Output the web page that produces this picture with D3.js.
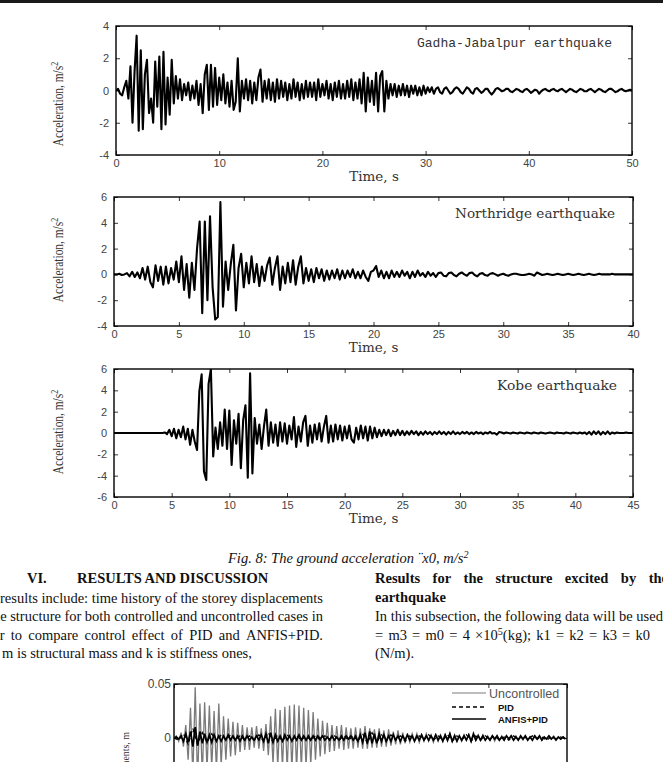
<!DOCTYPE html>
<html>
<head>
<meta charset="utf-8">
<script src="https://cdn.jsdelivr.net/npm/d3@7/dist/d3.min.js"></script>
<style>
  body { margin: 0; background: #fff; }
  svg { display: block; }
</style>
</head>
<body>
<svg id="page" width="663" height="762"></svg>
<script>
// ---------------- DATA ----------------
// Ground acceleration records, one sample every dt seconds (m/s^2)
const gadhaDt = 0.2;
const gadhaAcc = [
  0, 0.1, -0.2, -0.3, 0.2,   0.6, -0.5, 1.5, -2.0, 1.2,
  3.4, -2.5, 2.5, -2.4, 1.0,   1.9, -1.4, -0.5, -2.0, 1.8,
  -1.0, 2.1, -2.4, 2.4, -2.1,   0.8, -1.5, 1.9, -0.8, 0.9,
  -0.5, 0.7, -0.6, 0.4, -0.3,   0.5, -0.6, 0.3, -0.5, 0.6,
  -0.9, 0.4, -1.4, 1.0, 1.6,   -1.2, 1.6, -1.0, 1.4, -0.9,
  0.8, -0.6, 1.0, -0.8, 0.5,   -1.0, 0.6, -1.2, -0.7, 2.0,
  -1.3, 0.6, -0.5, 0.7, -0.6,   0.6, -0.8, 0.5, -0.6, 0.8,
  1.3, -0.7, 0.6, -0.5, 0.7,   -0.6, 0.5, -0.7, 0.7, -0.5,
  0.6, -0.4, 0.5, -0.6, 0.4,   -0.5, 0.7, -0.4, 0.5, -0.6,
  0.4, -0.5, 0.6, -0.4, 0.5,   -0.4, 0.5, -0.6, 0.7, -0.4,
  0.4, -0.3, 0.6, -0.5, 0.4,   -0.6, 0.5, -0.4, 0.6, -0.5,
  0.4, -0.5, 0.6, -0.4, 0.7,   -0.6, 0.5, -0.5, 0.7, -0.8,
  1.1, -1.3, 0.8, -0.7, 0.6,   -0.9, 1.1, -1.3, 0.9, 1.2,
  -1.3, 0.6, -0.5, 0.4, -0.3,   0.4, -0.4, 0.3, -0.3, 0.4,
  -0.3, 0.3, -0.4, 0.3, -0.2,   0.3, -0.3, 0.2, -0.3, 0.3,
  -0.2, 0.2, -0.1, 0.2, -0.2,   0.1, 0.2, -0.1, -0.2, 0.1,
  0.2, 0.0, -0.2, -0.1, 0.1,   0.2, 0.1, -0.1, -0.2, 0.0,
  0.2, 0.1, -0.1, -0.2, 0.1,   0.15, 0.0, -0.15, -0.05, 0.1,
  0.1, -0.1, -0.25, -0.1, 0.1,   0.15, 0.05, -0.05, 0.0, 0.1,
  0.1, -0.05, -0.1, 0.0, 0.1,   0.05, -0.05, -0.1, 0.05, 0.1,
  0.0, -0.15, -0.05, 0.05, 0.0,   -0.2, -0.05, 0.05, 0.1, 0.0,
  -0.05, 0.05, 0.1, 0.0, -0.05,   0.05, 0.1, 0.0, -0.1, 0.0,
  0.1, 0.05, -0.05, -0.1, 0.0,   0.1, 0.05, -0.05, -0.05, 0.05,
  0.1, 0.0, -0.1, 0.0, 0.1,   0.05, -0.05, -0.1, 0.0, 0.1,
  0.1, 0.0, -0.1, -0.05, 0.05,   0.1, 0.0, -0.05, 0.0, 0.05,
  0.0
];

const northDt = 0.2;
const northAcc = [
  0, 0, 0.05, -0.05, 0.0,   0.1, -0.15, 0.2, -0.2, 0.15,
  -0.3, 0.5, -0.4, 0.6, -0.6,   -1.0, 0.7, -0.5, 0.6, -0.8,
  0.6, -0.7, 0.5, -0.4, 1.0,   -0.6, 1.4, -1.2, 0.8, -1.8,
  0.9, -1.2, 2.0, 4.1, -3.0,   4.1, -2.0, 4.5, -1.0, -3.5,
  -3.3, 5.6, -2.5, 1.0, -1.2,   0.8, 2.3, -2.8, 0.5, 1.6,
  -1.0, 0.9, -0.7, 1.4, -0.6,   0.8, -0.9, 0.6, -0.5, 0.7,
  1.3, -0.8, 0.5, 1.4, -1.2,   0.6, -0.7, 0.9, -0.6, 1.1,
  -0.8, 0.6, 1.4, -0.7, 0.5,   -0.5, 0.4, -0.6, 0.5, -0.3,
  0.4, -0.5, 0.3, -0.4, 0.3,   -0.3, 0.4, -0.4, 0.3, -0.3,
  0.3, -0.2, 0.4, -0.3, 0.2,   -0.3, 0.3, -0.2, -0.5, 0.2,
  0.3, 0.65, -0.2, 0.3, -0.3,   0.2, -0.3, 0.3, -0.2, 0.2,
  -0.2, 0.3, -0.1, 0.2, -0.3,   0.2, -0.2, 0.3, -0.1, 0.1,
  -0.2, 0.2, -0.1, 0.1, -0.2,   0.1, 0.15, -0.1, -0.15, 0.1,
  0.15, -0.05, -0.15, 0.05, 0.15,   0.0, -0.1, 0.1, 0.15, -0.05,
  -0.15, 0.05, 0.1, -0.05, -0.1,   0.05, 0.1, 0.0, -0.1, 0.0,
  0.05, -0.05, -0.1, 0.0, 0.05,   0.05, 0.0, -0.05, -0.05, 0.0,
  0.05, 0.0, -0.1, 0.15, 0.05,   -0.05, 0.0, 0.05, 0.0, -0.05,
  0.0, 0.05, 0.0, -0.05, 0.0,   0.05, 0.0, -0.05, 0.0, 0.05,
  0.0, -0.05, 0.0, 0.05, 0.0,   -0.05, 0.0, 0.05, 0.0, 0.0,
  0.0, 0.0, 0.05, 0.0, 0.0,   0.0, 0.0, 0.0, 0.0, 0.0,
  0
];

const kobeDt = 0.2;
const kobeAcc = [
  0, 0, 0, 0, 0,   0, 0, 0, 0, 0,
  0, 0, 0, 0, 0,   0, 0, 0, 0, 0,
  0, 0, 0.05, -0.1, 0.3,   -0.3, 0.4, -0.5, 0.3, -0.4,
  0.6, -0.6, 0.4, -1.1, 0.3,   -0.8, -1.6, 3.9, 5.5, -3.6,
  -4.4, 4.6, 6.0, -2.2, 0.5,   -1.5, 1.0, -1.2, 2.2, -1.5,
  2.1, -3.0, 1.2, -1.0, 1.8,   -3.3, 1.2, 2.6, -4.2, 5.6,
  -3.8, 1.4, -1.0, 0.8, -1.5,   0.6, 2.2, -1.2, 1.0, -0.9,
  0.8, -1.2, 1.0, -0.8, 0.9,   -1.0, 0.7, -0.6, 1.5, -1.3,
  0.6, -0.8, 1.0, 1.6, -1.2,   0.7, -0.9, 0.8, -0.6, 0.9,
  -0.8, 0.6, 1.6, -0.9, 0.7,   -0.8, 0.8, -0.6, 0.7, -0.7,
  0.6, -0.5, 0.7, -0.6, -0.9,   0.5, -0.6, 0.7, -0.5, 0.6,
  -0.7, 0.6, -0.5, 0.5, -0.4,   0.3, -0.3, 0.3, -0.2, 0.3,
  -0.3, 0.2, -0.2, 0.3, -0.2,   0.2, -0.2, 0.15, -0.15, 0.2,
  -0.1, 0.15, -0.2, 0.1, -0.15,   0.15, -0.1, 0.1, -0.15, 0.1,
  -0.1, 0.15, -0.1, 0.1, -0.15,   0.1, -0.1, 0.15, -0.1, 0.05,
  -0.1, 0.1, -0.05, 0.1, -0.1,   0.05, -0.1, 0.1, -0.05, 0.05,
  -0.1, 0.05, -0.05, 0.1, -0.05,   0.0, -0.15, 0.1, 0.05, -0.05,
  0.05, 0.0, -0.05, 0.05, 0.0,   -0.05, 0.05, 0.0, -0.05, 0.05,
  0.0, -0.05, 0.05, 0.0, -0.05,   0.05, 0.0, -0.05, 0.0, 0.05,
  0.0, -0.05, 0.05, 0.0, 0.0,   -0.05, 0.05, 0.0, -0.05, 0.05,
  0.0, -0.05, 0.05, -0.05, 0.05,   -0.1, 0.1, -0.15, 0.15, -0.1,
  0.15, -0.15, 0.1, -0.1, 0.15,   -0.1, 0.05, -0.05, 0.05, 0.0,
  0.0, 0.0, 0.05, 0.0, 0.0,
  0
];

// Storey displacement (m), swing extremes every dispDt seconds
const dispDt = 0.3;
const uncontrolledDisp = [
  0, .002, -.003, .005, -.008, .012, -.020, .028, -.035, .047,
  -.040, .032, -.035, .033, -.030, .030, -.028, .025, -.030, .032,
  -.026, .020, -.020, .018, -.017, .015, -.016, .014, -.013, .012,
  -.011, .010, -.011, .010, -.009, .011, -.010, .009, -.012, .013,
  -.016, .020, -.024, .027, -.027, .026, -.028, .029, -.030, .030,
  -.031, .031, -.030, .030, -.029, .028, -.027, .026, -.025, .024,
  -.020, .018, -.017, .016, -.015, .014, -.013, .012, -.012, .011,
  -.010, .012, -.011, .010, -.010, .009, -.010, .010, -.009, .009,
  -.010, .011, -.010, .009, -.009, .008, -.009, .009, -.008, .007,
  -.008, .008, -.007, .006, -.006, .007, -.006, .005, -.005, .004,
  -.004, .004, -.003, .004, -.004, .003, -.003, .004, -.003, .003,
  -.004, .003, -.003, .003, -.002, .003, -.003, .004, -.003, .003,
  -.003, .002, -.003, .003, -.002, .003, -.003, .002, -.002, .003,
  -.002, .003, -.002, .002, -.002, .002, -.003, .002, -.002, .002,
  -.002, .002, -.001, .002, -.002, .002, -.002, .001, -.002, .002,
  -.002, .001, -.002, .002, -.001, .002, -.002, .001, -.001, .002,
  -.001, .002, -.001, .001, -.001, .001, 0
];
const anfisPidDisp = [
  0, .001, -.001, .002, -.003, .004, -.004, .006, -.008, .010,
  -.007, .006, -.005, .004, -.004, .003, -.004, .003, -.003, .002,
  -.003, .002, -.002, .003, -.002, .002, -.002, .002, -.003, .002,
  -.002, .002, -.002, .001, -.002, .002, -.002, .003, -.003, .004,
  -.005, .005, -.004, .003, -.003, .002, -.003, .003, -.002, .002,
  -.003, .002, -.002, .003, -.002, .002, -.002, .002, -.002, .002,
  -.002, .002, -.001, .002, -.002, .001, -.002, .002, -.002, .001,
  -.002, .002, -.002, .002, -.001, .002, -.002, .002, -.003, .003,
  -.004, .005, -.005, .006, -.005, .004, -.005, .004, -.003, .003,
  -.003, .002, -.003, .003, -.002, .002, -.003, .002, -.002, .003,
  -.002, .002, -.003, .002, -.002, .003, -.002, .002, -.002, .002,
  -.002, .003, -.002, .002, -.003, .003, -.002, .004, -.003, .002,
  -.003, .002, -.002, .002, -.002, .003, -.003, .004, -.002, .002,
  -.002, .002, -.002, .001, -.002, .002, -.001, .002, -.002, .001,
  -.002, .002, -.001, .002, -.002, .001, -.002, .002, -.001, .002,
  -.002, .001, -.002, .002, -.001, .002, -.002, .001, -.001, .002,
  -.001, .001, -.002, .001, -.001, .001, -.001
];
const pidDt = 0.6;
const pidDisp = [
  0, -.002, .004, -.006, .009, -.006, .005, -.004, .004, -.003,
  .003, -.002, .003, -.002, .002, -.002, .002, -.002, .003, -.003,
  .005, -.004, .003, -.003, .003, -.002, .002, -.002, .002, -.002,
  .002, -.002, .002, -.001, .002, -.002, .002, -.002, .002, -.003,
  .004, -.005, .005, -.004, .003, -.003, .003, -.002, .002, -.003,
  .002, -.002, .002, -.002, .003, -.002, .002, -.002, .003, -.003,
  .002, -.002, .003, -.003, .002, -.002, .002, -.001, .002, -.002,
  .001, -.002, .002, -.001, .002, -.001, .002, -.001, .001, -.002,
  .001, -.001, .001, -.001
];

// Axis ticks
const gadhaTimeTicks = [0, 10, 20, 30, 40, 50];
const gadhaAccTicks = [-4, -2, 0, 2, 4];
const northTimeTicks = [0, 5, 10, 15, 20, 25, 30, 35, 40];
const northAccTicks = [-4, -2, 0, 2, 4, 6];
const kobeTimeTicks = [0, 5, 10, 15, 20, 25, 30, 35, 40, 45];
const kobeAccTicks = [-6, -4, -2, 0, 2, 4, 6];
const dispTimeTicks = [0, 10, 20, 30, 40, 50];
const dispTicks = [-0.05, 0, 0.05];
const legendLabels = ["Uncontrolled", "PID", "ANFIS+PID"];

// ---------------- DRAWING ----------------
const svg = d3.select("#page");
const serif = "'Liberation Serif','Times New Roman',Times,serif";
const sans = "'Liberation Sans',Arial,Helvetica,sans-serif";

// rule at the top of the page
svg.append("rect")
  .attr("x", 0).attr("y", 0)
  .attr("width", 663).attr("height", 3)
  .attr("fill", "#1a1a1a");

// text helper: "^c" puts c as superscript
function addRich(parent, str, x, y, attrs) {
  const t = parent.append("text").attr("x", x).attr("y", y);
  Object.entries(attrs || {}).forEach(([k, v]) => t.attr(k, v));
  let shifted = false;
  str.split(/(\^.)/).forEach(part => {
    if (!part) return;
    if (part[0] === "^") {
      t.append("tspan").attr("dy", -5).attr("font-size", "70%").text(part[1]);
      shifted = true;
    } else {
      const sp = t.append("tspan").text(part);
      if (shifted) { sp.attr("dy", 5); shifted = false; }
    }
  });
  return t;
}

// justified line: words spread between x0 and x1
function justify(parent, line, x0, x1, y, attrs) {
  const words = line.split(" ");
  const els = words.map(w => addRich(parent, w, 0, y, attrs));
  const widths = els.map(e => e.node().getComputedTextLength());
  const gap = (x1 - x0 - d3.sum(widths)) / (words.length - 1);
  let x = x0;
  els.forEach((e, i) => { e.attr("x", x); x += widths[i] + gap; });
}

function styleAxis(sel, fs) {
  sel.attr("font-family", sans).attr("font-size", fs);
  sel.select(".domain").remove();
  sel.selectAll(".tick line").attr("stroke", "#000").attr("stroke-width", 0.8);
  sel.selectAll(".tick text").attr("fill", "#444");
}

// MATLAB-like box with inward ticks on all four sides
function drawBox(g, x, y, p, xTicks, yTicks, fs, yPad) {
  const fmt = d => String(d);
  g.append("g").attr("transform", `translate(0,${p.bottom})`)
    .call(d3.axisBottom(x).tickValues(xTicks).tickSizeInner(-4).tickSizeOuter(0).tickPadding(4).tickFormat(fmt))
    .call(s => styleAxis(s, fs));
  g.append("g").attr("transform", `translate(0,${p.top})`)
    .call(d3.axisTop(x).tickValues(xTicks).tickSizeInner(-4).tickSizeOuter(0).tickFormat(""))
    .call(s => styleAxis(s, fs));
  g.append("g").attr("transform", `translate(${p.left},0)`)
    .call(d3.axisLeft(y).tickValues(yTicks).tickSizeInner(-4).tickSizeOuter(0).tickPadding(yPad).tickFormat(fmt))
    .call(s => styleAxis(s, fs));
  g.append("g").attr("transform", `translate(${p.right},0)`)
    .call(d3.axisRight(y).tickValues(yTicks).tickSizeInner(-4).tickSizeOuter(0).tickFormat(""))
    .call(s => styleAxis(s, fs));
  g.append("rect")
    .attr("x", p.left).attr("y", p.top)
    .attr("width", p.right - p.left).attr("height", p.bottom - p.top)
    .attr("fill", "none").attr("stroke", "#000").attr("stroke-width", 1.4);
}

const panels = [
  { id: "gadha", title: "Gadha-Jabalpur earthquake", titleFont: "'Liberation Mono','DejaVu Sans Mono',monospace",
    titleX: 417, titleW: 195, values: gadhaAcc, dt: gadhaDt, xMax: 50, xTicks: gadhaTimeTicks,
    yDomain: [-4, 4], yTicks: gadhaAccTicks, left: 116, right: 632, top: 26, bottom: 155, labelY: 104 },
  { id: "north", title: "Northridge earthquake", titleFont: "'DejaVu Serif',serif",
    titleX: 455, titleW: 160, values: northAcc, dt: northDt, xMax: 40, xTicks: northTimeTicks,
    yDomain: [-4, 6], yTicks: northAccTicks, left: 114, right: 633, top: 197, bottom: 326, labelY: 260 },
  { id: "kobe", title: "Kobe earthquake", titleFont: "'DejaVu Serif',serif",
    titleX: 497, titleW: 120, values: kobeAcc, dt: kobeDt, xMax: 45, xTicks: kobeTimeTicks,
    yDomain: [-6, 6], yTicks: kobeAccTicks, left: 114, right: 633, top: 369, bottom: 497, labelY: 432 }
];

panels.forEach(p => {
  const x = d3.scaleLinear().domain([0, p.xMax]).range([p.left, p.right]);
  const y = d3.scaleLinear().domain(p.yDomain).range([p.bottom, p.top]);
  const g = svg.append("g");

  g.append("clipPath").attr("id", "clip-" + p.id)
    .append("rect").attr("x", p.left).attr("y", p.top)
    .attr("width", p.right - p.left).attr("height", p.bottom - p.top);

  const line = d3.line().x((d, i) => x(i * p.dt)).y(d => y(d));
  g.append("path").datum(p.values)
    .attr("clip-path", `url(#clip-${p.id})`)
    .attr("d", line)
    .attr("fill", "none").attr("stroke", "#000")
    .attr("stroke-width", 2.1).attr("stroke-linejoin", "round");

  drawBox(g, x, y, p, p.xTicks, p.yTicks, 11, 7);

  g.append("text")
    .attr("x", p.titleX).attr("y", p.top + 21)
    .attr("textLength", p.titleW).attr("lengthAdjust", "spacingAndGlyphs")
    .attr("font-family", p.titleFont).attr("font-size", 13).attr("fill", "#333")
    .text(p.title);

  g.append("text")
    .attr("x", (p.left + p.right) / 2).attr("y", p.bottom + 26)
    .attr("text-anchor", "middle")
    .attr("font-family", "'DejaVu Serif',serif").attr("font-size", 13.5).attr("fill", "#333")
    .text("Time, s");

  const lab = g.append("g").attr("transform", `translate(63,${p.labelY}) rotate(-90) scale(0.76,1)`);
  addRich(lab, "Acceleration, m/s^2", 0, 0, {
    "text-anchor": "middle", "font-family": serif, "font-size": 15, "fill": "#333"
  });
});

// ---------------- caption and body text ----------------
const body = { "font-family": serif, "font-size": 14.5, "fill": "#111" };
const bold = Object.assign({}, body, { "font-weight": "bold" });

addRich(svg, "Fig. 8: The ground acceleration \u00A8x0, m/s^2", 228, 563,
  Object.assign({}, body, { "font-style": "italic" }));

addRich(svg, "VI.", 27, 583, bold);
addRich(svg, "RESULTS AND DISCUSSION", 77, 583, bold);
justify(svg, "results include: time history of the storey displacements", 0, 323, 603, body);
justify(svg, "the structure for both controlled and uncontrolled cases in", -11, 323, 621, body);
justify(svg, "order to compare control effect of PID and ANFIS+PID.", -26, 323, 640, body);
addRich(svg, "m is structural mass and k is stiffness ones,", 2, 658, body);

justify(svg, "Results for the structure excited by the", 375, 668, 583, bold);
addRich(svg, "earthquake", 375, 602, bold);
addRich(svg, "In this subsection, the following data will be used", 375, 621, body);
justify(svg, "= m3 = m0 = 4 \u00D710^5(kg); k1 = k2 = k3 = k0", 375, 650, 640, body);
addRich(svg, "(N/m).", 375, 658, body);

// ---------------- displacement chart (cut by the page edge) ----------------
const dp = { id: "disp", left: 174, right: 567, top: 684, bottom: 792 };
const dx = d3.scaleLinear().domain([0, 50]).range([dp.left, dp.right]);
const dy = d3.scaleLinear().domain([-0.05, 0.05]).range([dp.bottom, dp.top]);
const dg = svg.append("g");
dg.append("clipPath").attr("id", "clip-disp")
  .append("rect").attr("x", dp.left).attr("y", dp.top)
  .attr("width", dp.right - dp.left).attr("height", dp.bottom - dp.top);

const series = [
  { values: uncontrolledDisp, dt: dispDt, color: "#7a7a7a", width: 1.3, dash: null },
  { values: pidDisp, dt: pidDt, color: "#000", width: 1.2, dash: "4,3" },
  { values: anfisPidDisp, dt: dispDt, color: "#000", width: 1.7, dash: null }
];
series.forEach(s => {
  const line = d3.line().x((d, i) => dx(i * s.dt)).y(d => dy(d));
  dg.append("path").datum(s.values)
    .attr("clip-path", "url(#clip-disp)")
    .attr("d", line)
    .attr("fill", "none").attr("stroke", s.color)
    .attr("stroke-width", s.width)
    .attr("stroke-dasharray", s.dash);
});

drawBox(dg, dx, dy, dp, dispTimeTicks, dispTicks, 12, 3);

// legend
const legY = [693, 707, 719];
series.forEach((s, i) => {
  dg.append("line")
    .attr("x1", 452).attr("x2", 486).attr("y1", legY[i]).attr("y2", legY[i])
    .attr("stroke", s.color).attr("stroke-width", i === 0 ? 1 : 1.5)
    .attr("stroke-dasharray", s.dash);
  dg.append("text")
    .attr("x", i === 0 ? 489 : 498).attr("y", legY[i] + (i === 0 ? 4.5 : 3.5))
    .attr("font-family", sans)
    .attr("font-size", i === 0 ? 12.5 : 9.5)
    .attr("font-weight", i === 0 ? "normal" : "bold")
    .attr("fill", i === 0 ? "#555" : "#111")
    .text(legendLabels[i]);
});

const dlab = dg.append("g").attr("transform", "translate(129,732) rotate(-90) scale(0.9,1)");
dlab.append("text")
  .attr("text-anchor", "end")
  .attr("font-family", serif).attr("font-size", 11).attr("fill", "#333")
  .text("Displacements, m");
</script>
</body>
</html>
